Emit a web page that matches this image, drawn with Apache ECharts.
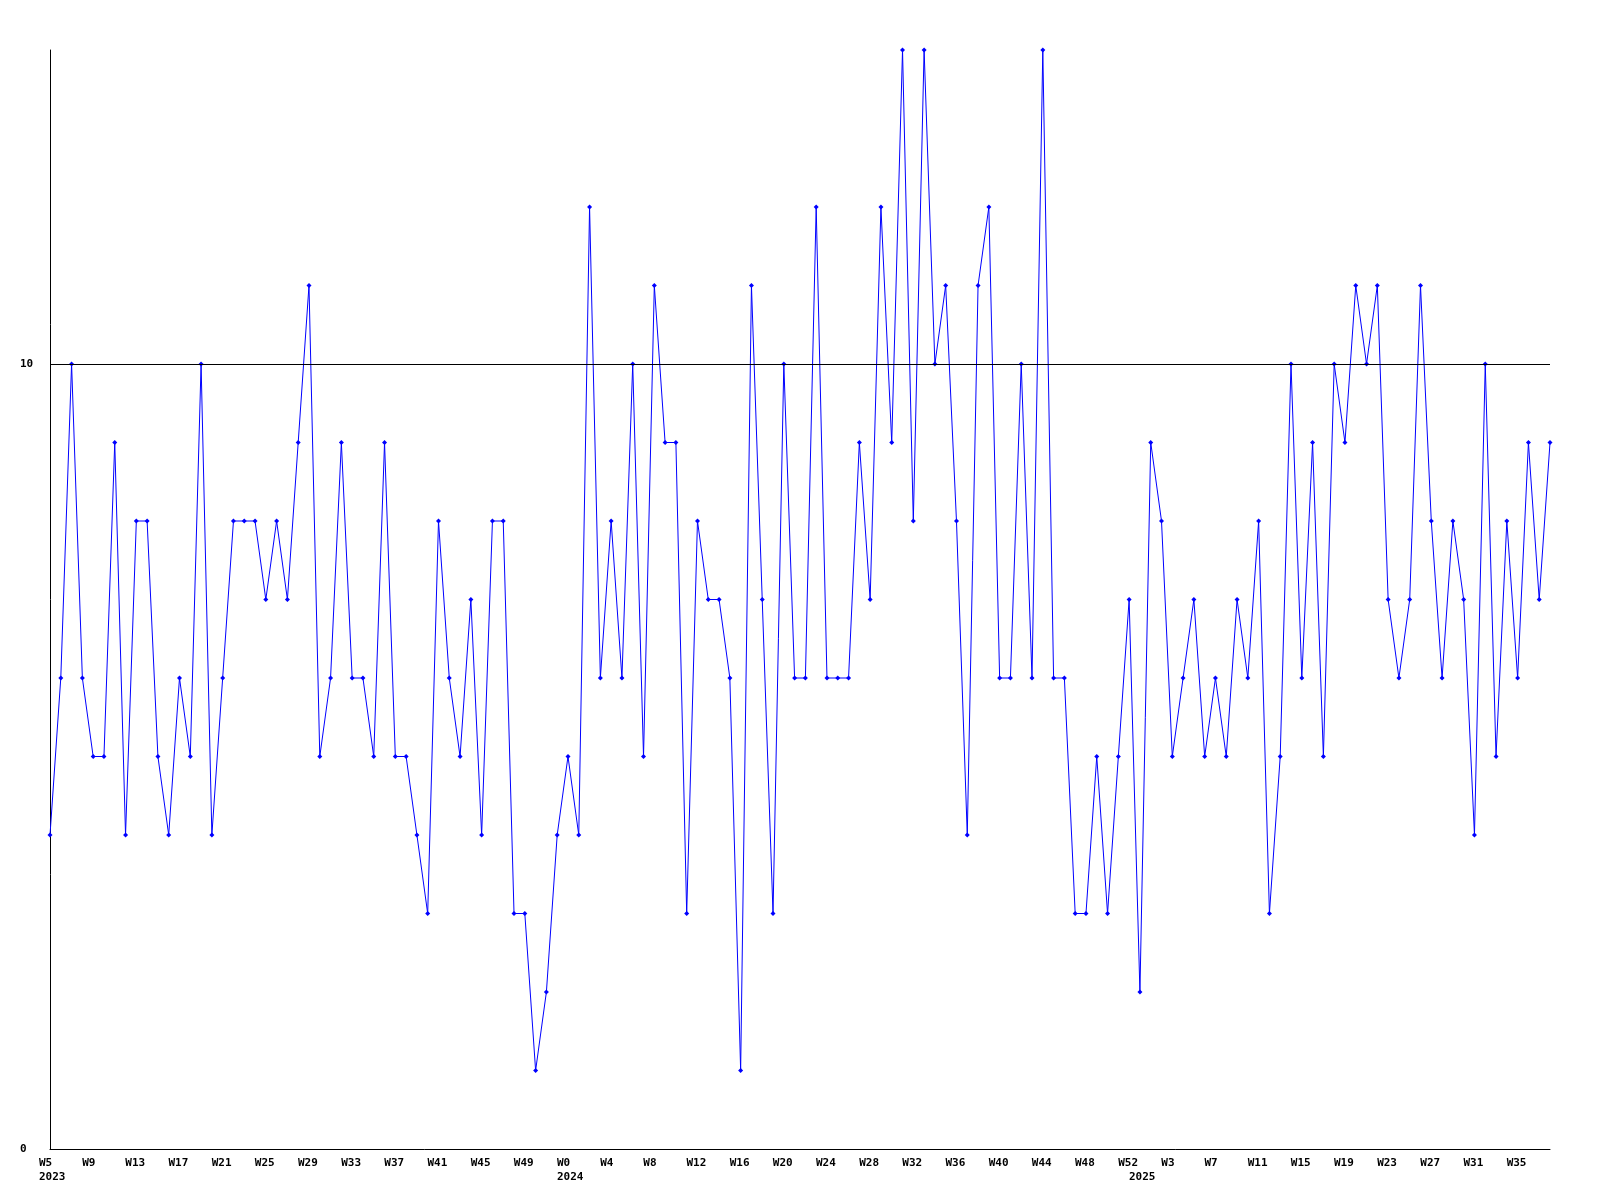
<!DOCTYPE html>
<html>
<head>
<meta charset="utf-8">
<script src="https://cdn.jsdelivr.net/npm/echarts@6/dist/echarts.min.js"></script>
<style>
  html, body { margin: 0; padding: 0; background: #fff; }
</style>
</head>
<body>
<div id="main" style="width: 1600px;height: 1200px;"></div>
<script>
// year, first week, last week
const yearRanges = [[2023, 5, 52], [2024, 0, 52], [2025, 0, 38]]

const values2023 = [4, 6, 10, 6, 5, 5, 9, 4, 8, 8, 5, 4, 6, 5, 10, 4, 6, 8, 8, 8,
  7, 8, 7, 9, 11, 5, 6, 9, 6, 6, 5, 9, 5, 5, 4, 3, 8, 6, 5, 7, 4, 8, 8, 3, 3, 1, 2, 4]
const values2024 = [5, 4, 12, 6, 8, 6, 10, 5, 11, 9, 9, 3, 8,
  7, 7, 6, 1, 11, 7, 3, 10, 6, 6, 12, 6, 6, 6, 9, 7, 12, 9, 14, 8,
  14, 10, 11, 8, 4, 11, 12, 6, 6, 10, 6, 14, 6, 6, 3, 3, 5, 3, 5, 7]
const values2025 = [2, 9, 8, 5, 6, 7, 5, 6, 5, 7, 6, 8, 3, 5, 10, 6, 9, 5, 10, 9, 11,
  10, 11, 7, 6, 7, 11, 8, 6, 8, 7, 4, 10, 5, 8, 6, 9, 7, 9]

const yLabels = [0, 10]
const refLine = 10

const categories = []
const yearStart = {}
yearRanges.forEach(([y, w0, w1]) => {
  yearStart[categories.length] = y
  for (let w = w0; w <= w1; w++) categories.push(y + '-W' + w)
})
const values = values2023.concat(values2024, values2025)

const myChart = echarts.init(document.getElementById('main'))
const font = '"DejaVu Sans Mono", monospace'

let option = {
  backgroundColor: '#ffffff',
  animation: false,
  grid: {
    left: 50,
    right: 50,
    top: 50,
    bottom: 51
  },
  xAxis: {
    type: 'category',
    boundaryGap: false,
    data: categories,
    axisLine: {lineStyle: {color: '#000', width: 1}},
    axisTick: {show: false},
    axisLabel: {
      interval: (idx) => idx % 4 === 0 || yearStart[idx] !== undefined,
      formatter: (val, idx) => {
        const wk = val.split('-')[1]
        const top = idx % 4 === 0 ? wk : ''
        return yearStart[idx] !== undefined ? top + '\n' + yearStart[idx] : top
      },
      // labels start a little left of their tick, left aligned
      align: 'left',
      padding: [0, 0, 0, -11],
      color: '#000',
      fontFamily: font,
      fontWeight: 'bold',
      fontSize: 11,
      lineHeight: 14,
      margin: 7
    }
  },
  yAxis: {
    type: 'value',
    min: 0,
    max: 14,
    interval: 10,
    axisLine: {show: true, lineStyle: {color: '#000', width: 1}},
    axisTick: {show: false},
    splitLine: {show: false},
    axisLabel: {
      formatter: v => yLabels.includes(v) ? String(v) : '',
      align: 'left',
      margin: 30,
      color: '#000',
      fontFamily: font,
      fontWeight: 'bold',
      fontSize: 11
    }
  },
  series: [
    {
      type: 'line',
      data: values,
      symbol: 'diamond',
      symbolSize: 5,
      showAllSymbol: true,
      itemStyle: {color: '#0000ff'},
      lineStyle: {color: '#0000ff', width: 1},
      markLine: {
        silent: true,
        symbol: ['none', 'none'],
        label: {show: false},
        lineStyle: {color: '#000', width: 1, type: 'solid'},
        data: [{yAxis: refLine}]
      }
    }
  ]
}
option && myChart.setOption(option)
</script>
</body>
</html>
